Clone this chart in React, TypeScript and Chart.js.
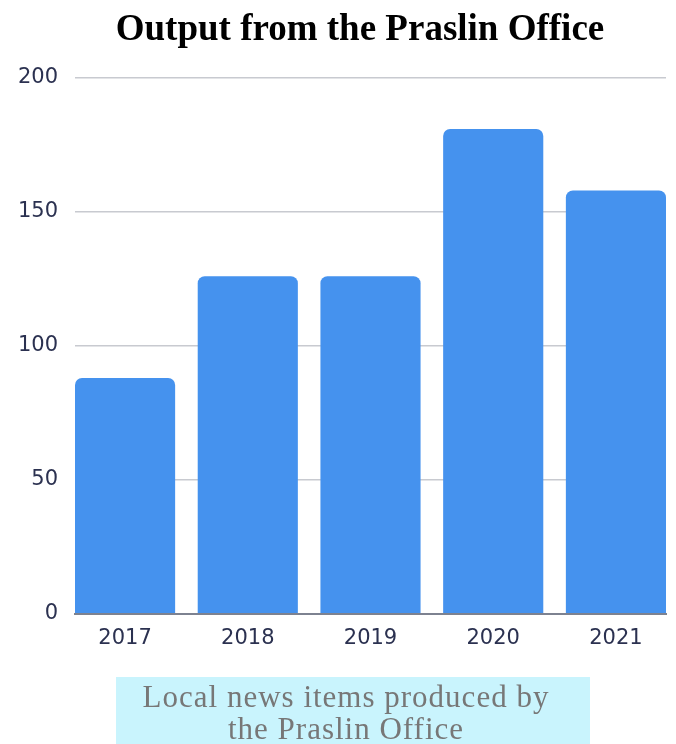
import React, { useEffect, useRef } from "react";
import { Chart, registerables } from "chart.js";

Chart.register(...registerables);

const categories = ["2017", "2018", "2019", "2020", "2021"];
const values = [88, 126, 126, 181, 158];
const yTicks = [0, 50, 100, 150, 200];
const titleText = "Output from the Praslin Office";
const captionLines = ["Local news items produced by", "the Praslin Office"];

export default function App() {
  const ref = useRef<HTMLCanvasElement>(null);
  useEffect(() => {
    if (!ref.current) return;
    const barFrac = 0.816;
    const chart = new Chart(ref.current, {
      type: "bar",
      data: {
        datasets: [
          {
            data: values.map((v, i) => ({ x: i, y: v })),
            backgroundColor: "#4592ee",
            borderRadius: { topLeft: 7, topRight: 7, bottomLeft: 0, bottomRight: 0 },
            borderSkipped: false,
            barPercentage: barFrac,
            categoryPercentage: 1,
          },
        ],
      },
      options: {
        animation: false,
        responsive: true,
        maintainAspectRatio: false,
        layout: { padding: { top: 70, right: 2, bottom: 5, left: 0 } },
        plugins: {
          legend: { display: false },
          tooltip: { enabled: false },
          title: { display: false },
        },
        scales: {
          x: {
            type: "linear",
            offset: false,
            min: -barFrac / 2,
            max: categories.length - 1 + barFrac / 2,
            grid: { display: false, drawTicks: false, offset: false },
            border: { display: true, color: "#7d8290", width: 2 },
            afterBuildTicks: (axis: any) => {
              axis.ticks = categories.map((_, i) => ({ value: i }));
            },
            ticks: {
              color: "#2b3150",
              font: { family: "DejaVu Sans", size: 21 },
              padding: 12,
              autoSkip: false,
              maxRotation: 0,
              callback: (v: any) => categories[v as number] ?? "",
            },
          },
          y: {
            min: 0,
            max: 200,
            grid: { color: "#c8cad0", lineWidth: 1.5, drawTicks: false },
            border: { display: false },
            afterBuildTicks: (axis: any) => {
              axis.ticks = yTicks.map((v) => ({ value: v }));
            },
            afterFit: (axis: any) => {
              axis.width = 67;
            },
            ticks: {
              color: "#2b3150",
              font: { family: "DejaVu Sans", size: 21 },
              padding: 17,
            },
          },
        },
      },
    });
    return () => chart.destroy();
  }, []);

  return (
    <div>
      <div
        style={{
          position: "fixed",
          left: 0,
          top: 8,
          width: 720,
          height: 40,
          lineHeight: "40px",
          textAlign: "center",
          fontFamily: "Liberation Serif",
          fontWeight: "bold",
          fontSize: 37,
          color: "#000000",
          whiteSpace: "nowrap",
        }}
      >
        {titleText}
      </div>
      <div style={{ position: "relative", width: 660, height: 660 }}>
        <canvas ref={ref} />
      </div>
      <div
        style={{
          position: "fixed",
          left: 116,
          top: 677,
          width: 474,
          height: 67,
          background: "#c9f4fd",
          color: "#777777",
          fontFamily: "Liberation Serif",
          fontSize: 31,
          letterSpacing: 1,
          lineHeight: "32px",
          textAlign: "center",
          paddingTop: 4,
          paddingRight: 14,
          boxSizing: "border-box",
          whiteSpace: "nowrap",
        }}
      >
        {captionLines.map((l, i) => (
          <div key={i}>{l}</div>
        ))}
      </div>
    </div>
  );
}
